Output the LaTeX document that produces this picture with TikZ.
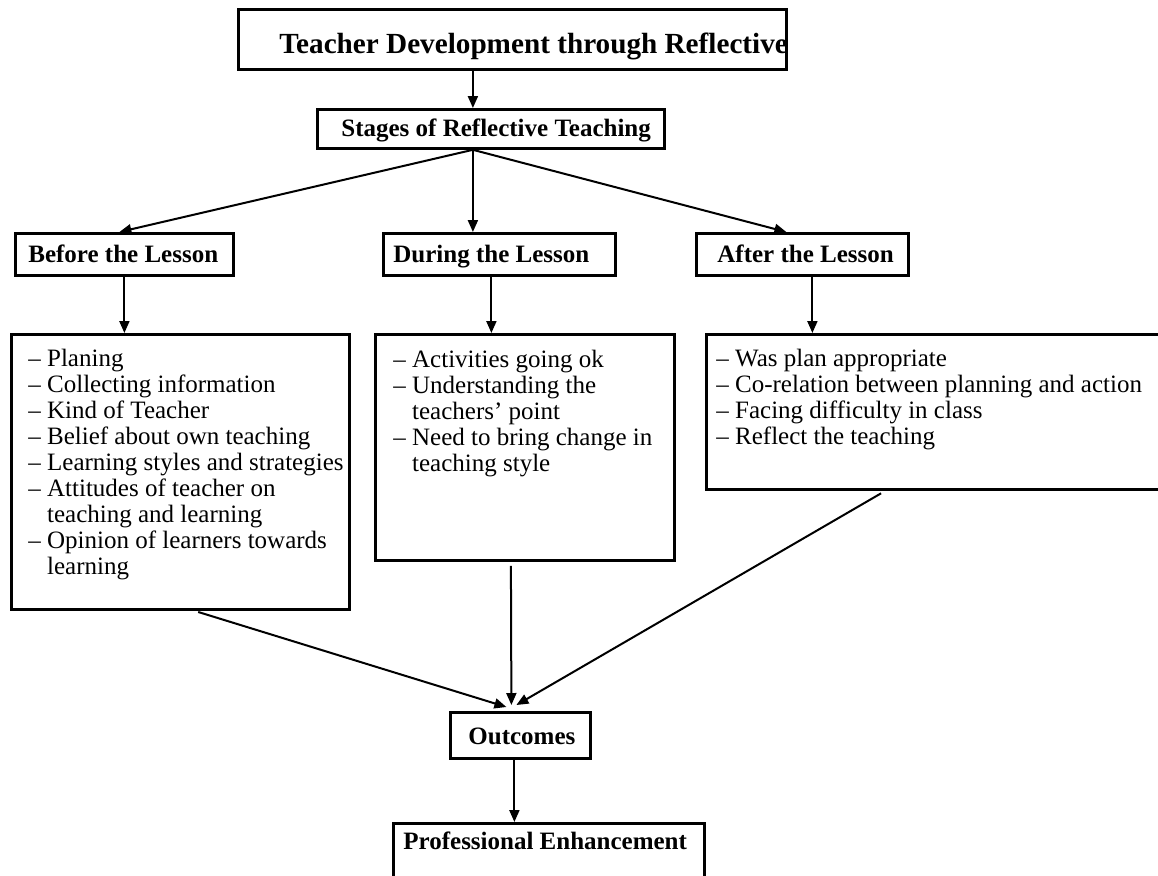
\documentclass[tikz,border=0pt]{standalone}
\usepackage{fontspec}
\setmainfont{Liberation Serif}
\usetikzlibrary{calc, arrows.meta}

\tikzset{
  box/.style={draw, line width=1.4pt, anchor=north west, inner sep=0pt, align=flush left},
  head/.style={box, font=\fontsize{12.5}{13}\selectfont\bfseries},
  list/.style={box, font=\fontsize{12.5}{13}\selectfont},
  pad/.style={execute at begin node={\leftskip=#1}},
  link/.style={line width=1pt, -{Triangle[length=6pt, width=5pt]}}
}

\begin{document}
\begin{tikzpicture}[x=0.5pt, y=-0.5pt]
      \useasboundingbox (0,0) rectangle (1158,875);

      \node[head, font=\fontsize{14.6}{15}\selectfont\bfseries, text width=274pt,
        pad=20.5pt, text height=22pt, text depth=8pt] (title) at (237,8)
        {\mbox{Teacher Development through Reflective}};
      \node[head, text width=173.5pt, pad=12pt, text height=13.5pt, text depth=6pt]
        (stages) at (316,108) {Stages of Reflective Teaching};
      \coordinate (hub) at ([xshift=-9pt]stages.south);

      \node[head, text width=109pt, pad=6.5pt, text height=14.5pt, text depth=6.5pt]
        (before) at (14,232) {Before the Lesson};
      \node[head, text width=116pt, pad=5pt, text height=14.5pt, text depth=6.5pt]
        (during) at (382,232) {During the Lesson};
      \node[head, text width=106pt, pad=10.5pt, text height=14.5pt, text depth=6.5pt]
        (after) at (695,232) {After the Lesson};

      \node[list, text width=169pt, pad=8.5pt, text height=16pt, text depth=121.5pt]
        (beforelist) at (10,333) {-- Planing\\
        -- Collecting information\\
        -- Kind of Teacher\\
        -- Belief about own teaching\\
        -- Learning styles and strategies\\
        -- Attitudes of teacher on\\
        \phantom{-- }teaching and learning\\
        -- Opinion of learners towards\\
        \phantom{-- }learning};
      \node[list, text width=149.5pt, pad=9pt, text height=16.5pt, text depth=96.5pt]
        (duringlist) at (374,333) {-- Activities going ok\\
        -- Understanding the\\
        \phantom{-- }teachers’ point\\
        -- Need to bring change in\\
        \phantom{-- }teaching style};
      \node[list, text width=235pt, pad=5pt, text height=16pt, text depth=61.5pt]
        (afterlist) at (705,333) {-- Was plan appropriate\\
        -- Co-relation between planning and action\\
        -- Facing difficulty in class\\
        -- Reflect the teaching};

      \node[head, text width=70pt, pad=9pt, text height=16pt, text depth=7pt]
        (outcomes) at (449,711) {Outcomes};
      \node[head, text width=155.5pt, pad=5pt, text height=13pt, text depth=40pt]
        (profession) at (392,822) {Professional Enhancement};

      \draw[link] (title.south -| hub) -- (stages.north -| hub);
      \draw[link] (hub) -- ([xshift=-2.5pt]before.north);
      \draw[link] (hub) -- (during.north -| hub);
      \draw[link] (hub) -- ([xshift=-8pt]after.north);

      \draw[link] (before.south) -- (before.south |- beforelist.north);
      \draw[link] ([xshift=-4pt]during.south) -- ([xshift=-4pt]during.south |- duringlist.north);
      \draw[link] ([xshift=5pt]after.south) -- ([xshift=5pt]after.south |- afterlist.north);

      \draw[link, shorten <=2pt] ([xshift=7pt]beforelist.south) -- ([xshift=-7pt, yshift=2pt]outcomes.north);
      \draw[link, shorten <=2pt] ([xshift=-7pt]duringlist.south) -- ([xshift=-4.5pt, yshift=3pt]outcomes.north);
      \draw[link, shorten <=2.5pt] ([xshift=-28pt]afterlist.south) -- ([xshift=-2pt, yshift=3pt]outcomes.north);

      \draw[link] ([xshift=-3pt]outcomes.south) -- ([xshift=-3pt]outcomes.south |- profession.north);
    \end{tikzpicture}
\end{document}
